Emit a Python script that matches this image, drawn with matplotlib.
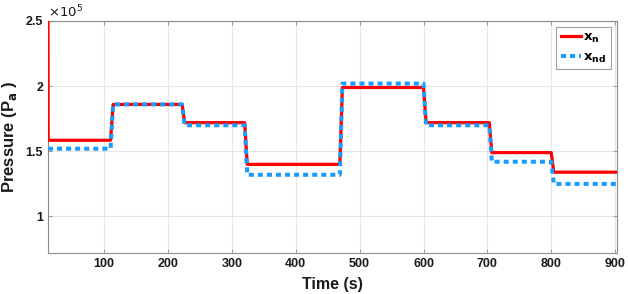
import matplotlib
matplotlib.use("Agg")
import matplotlib.pyplot as plt
from matplotlib.ticker import FuncFormatter, FixedLocator

plt.rcParams['font.family'] = ['Liberation Sans', 'DejaVu Sans']

# Data (pressure in units of 1e5 Pa)
x_start = 12
x_end = 905
initial_peak = 2.6          # xn starts above the top of the plot
step_times = [110, 222, 320, 469, 600, 703, 800]
xn_levels = [1.585, 1.86, 1.72, 1.40, 1.99, 1.72, 1.49, 1.34]
xnd_levels = [1.52, 1.86, 1.70, 1.32, 2.02, 1.70, 1.42, 1.25]
ramp = 4

x_ticks = [100, 200, 300, 400, 500, 600, 700, 800, 900]
y_ticks = [1.0, 1.5, 2.0, 2.5]


def build(levels, start_peak=None):
    t, y = [], []
    if start_peak is not None:
        t += [x_start, x_start + 0.3]
        y += [start_peak * 1e5, levels[0] * 1e5]
    else:
        t.append(x_start)
        y.append(levels[0] * 1e5)
    for i, ts in enumerate(step_times):
        t += [ts, ts + ramp]
        y += [levels[i] * 1e5, levels[i + 1] * 1e5]
    t.append(x_end)
    y.append(levels[-1] * 1e5)
    return t, y


fig = plt.figure(figsize=(6.28, 2.94), dpi=100)
ax = fig.add_axes([0.0764, 0.1395, 0.9825 - 0.0764, 0.9286 - 0.1395])

tn, yn = build(xn_levels, initial_peak)
tnd, ynd = build(xnd_levels)

ax.plot(tn, yn, color='#FF0000', lw=2.3, label=r'$\mathbf{x_n}$', zorder=3)
ax.plot(tnd, ynd, color='#1A9CFF', lw=2.9, linestyle=(0, (1.25, 1.0)),
        label=r'$\mathbf{x_{nd}}$', zorder=4)

ax.set_xlim(12, 903)
ax.set_ylim(0.72e5, 2.5e5)
ax.xaxis.set_major_locator(FixedLocator(x_ticks))
ax.yaxis.set_major_locator(FixedLocator([v * 1e5 for v in y_ticks]))
ax.yaxis.set_major_formatter(FuncFormatter(lambda v, p: '%g' % (v / 1e5)))

ax.grid(True, color='#E6E6E6', lw=0.8)
ax.set_axisbelow(True)
for s in ax.spines.values():
    s.set_color('#8C8C8C')
    s.set_linewidth(0.8)
ax.tick_params(direction='in', length=3, width=0.6, colors='#8C8C8C',
               top=True, right=True, labelcolor='#1A1A1A', labelsize=9)
for lab in ax.get_xticklabels() + ax.get_yticklabels():
    lab.set_fontweight('bold')

ax.set_xlabel('Time (s)', fontsize=11.5, fontweight='bold', color='#1A1A1A', labelpad=5)
ax.set_ylabel(r'Pressure (P$_\mathbf{a}$ )', fontsize=12, fontweight='bold',
              color='#1A1A1A', labelpad=5)

ax.text(0.0, 1.005, r'$\times10^5$', transform=ax.transAxes, fontsize=9.5,
        color='#1A1A1A', ha='left', va='bottom')

leg = ax.legend(loc='upper right', fontsize=9.5, handlelength=1.5,
                borderaxespad=0.45, fancybox=False, framealpha=1,
                edgecolor='#A0A0A0', labelspacing=0.5, handletextpad=0.2,
                borderpad=0.35)
leg.get_frame().set_linewidth(0.8)

fig.savefig('out.png', dpi=100)
